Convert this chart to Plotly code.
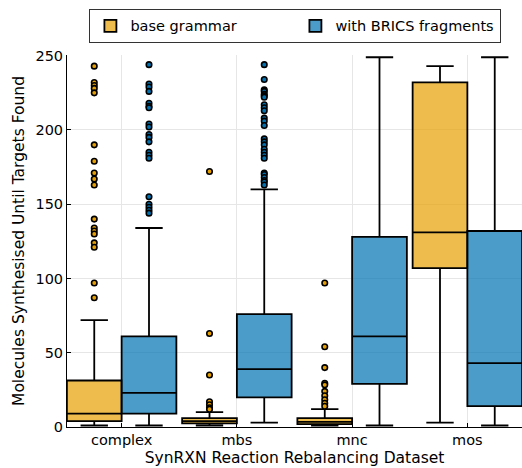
import plotly.graph_objects as go

categories = ["complex", "mbs", "mnc", "mos"]
series_names = ["base grammar", "with BRICS fragments"]

# base grammar box stats
base_q1 = [4, 2.5, 2, 107]
base_median = [9, 4, 3.5, 131]
base_q3 = [31.3, 6, 6, 232]
base_low = [1, 1, 1, 3]
base_high = [72, 10, 12, 243]
base_outliers = [
    [243, 232, 230, 228, 225, 190, 179, 171, 167, 163, 140, 134, 132, 130, 124, 121, 97, 87],
    [172, 63, 35, 17, 15, 13, 12],
    [97, 54, 40, 29.5, 28.4, 24, 21, 18.3, 16, 14],
    [],
]

# with BRICS fragments box stats
brics_q1 = [9, 20, 29, 14]
brics_median = [23, 39, 61, 43]
brics_q3 = [61, 76, 128, 132]
brics_low = [1, 3, 1, 1]
brics_high = [134, 160, 249, 249]
brics_outliers = [
    [244, 231, 229, 226, 218, 216, 215, 204, 202, 197, 195, 192, 185, 183, 181, 155, 150, 148, 146, 144],
    [244, 234, 227, 226, 224, 223, 222, 217, 215, 213, 208, 206, 203, 194, 192, 190, 187, 185, 183, 181,
     171, 170, 168, 166, 165, 163],
    [],
    [],
]

y_ticks = [0, 50, 100, 150, 200, 250]

colors_line = ["#E69F00", "#0072B2"]
colors_fill = ["rgba(230,159,0,0.7)", "rgba(0,114,178,0.7)"]
offset = 0.2375
bw = 0.475

FONT = "DejaVu Sans"
fig = go.Figure()

stats = [
    (base_q1, base_median, base_q3, base_low, base_high, base_outliers),
    (brics_q1, brics_median, brics_q3, brics_low, brics_high, brics_outliers),
]

for s, (q1, med, q3, lo, hi, outl) in enumerate(stats):
    sign = -1 if s == 0 else 1
    xs = [i + sign * offset for i in range(len(categories))]
    fig.add_trace(go.Box(
        x=xs, q1=q1, median=med, q3=q3, lowerfence=lo, upperfence=hi,
        width=bw, whiskerwidth=0.5,
        fillcolor=colors_fill[s],
        line=dict(color="black", width=1.8),
        name=series_names[s], boxpoints=False, showlegend=True,
    ))
    ox, oy = [], []
    for i, pts in enumerate(outl):
        for v in pts:
            ox.append(xs[i])
            oy.append(v)
    fig.add_trace(go.Scatter(
        x=ox, y=oy, mode="markers", showlegend=False,
        marker=dict(size=5.5, color=colors_line[s], line=dict(color="black", width=1.6)),
    ))

fig.update_layout(
    width=522, height=468,
    margin=dict(l=67, r=0, t=55, b=41),
    plot_bgcolor="white", paper_bgcolor="white",
    boxmode="overlay",
    font=dict(family=FONT, size=14.5, color="black"),
    legend=dict(
        orientation="h", x=0.502, xanchor="center", y=1.124, yanchor="top",
        bordercolor="#333333", borderwidth=1, bgcolor="white",
        font=dict(family=FONT, size=14.5), entrywidth=160, entrywidthmode="pixels",
        itemwidth=30,
    ),
)
fig.update_xaxes(
    range=[-0.474, 3.474], tickvals=list(range(len(categories))), ticktext=categories,
    showgrid=True, gridcolor="#e6e6e6", gridwidth=1,
    showline=True, linecolor="black", linewidth=1, mirror=False,
    ticks="inside", ticklen=4, tickcolor="black", zeroline=False,
    title=dict(text="SynRXN Reaction Rebalancing Dataset", font=dict(size=15.5), standoff=4),
    tickfont=dict(size=14.5),
)
fig.update_yaxes(
    range=[0, 250.5], tickvals=y_ticks,
    showgrid=True, gridcolor="#e6e6e6", gridwidth=1,
    showline=True, linecolor="black", linewidth=1, mirror=False,
    ticks="inside", ticklen=4, tickcolor="black", zeroline=False,
    title=dict(text="Molecules Synthesised Until Targets Found", font=dict(size=15.5), standoff=6),
    tickfont=dict(size=14.5),
)

fig.write_html("out.html")
